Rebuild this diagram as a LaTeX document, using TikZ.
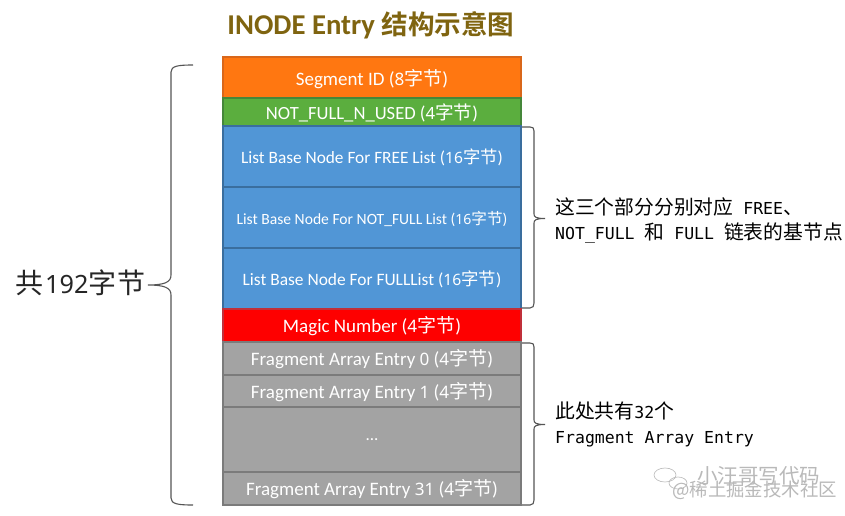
\documentclass[tikz,border=0pt]{standalone}
\usepackage{fontspec}
\setmainfont{Carlito}
\setmonofont{DejaVu Sans Mono}
\newfontfamily\cjk{Noto Sans CJK SC}
\newfontfamily\cjkb{Noto Sans CJK SC}[BoldFont={Noto Sans CJK SC Bold}]
\newfontfamily\digitfont{Noto Sans}[Scale=0.9]
\newcommand{\dg}[1]{{\digitfont #1}}
\newcommand{\zh}[1]{{\cjk #1}}
\newcommand{\zn}[1]{{\cjk\fontsize{19.8}{25}\selectfont #1}}
\newcommand{\low}[1]{\raisebox{-7.2pt}[0pt][0pt]{#1}}
\definecolor{orangefill}{HTML}{FF7711}
\definecolor{orangeline}{HTML}{D9671A}
\definecolor{greenfill}{HTML}{5BAE3E}
\definecolor{greenline}{HTML}{45873A}
\definecolor{bluefill}{HTML}{5196D6}
\definecolor{blueline}{HTML}{3A6E9E}
\definecolor{redfill}{HTML}{FE0000}
\definecolor{redline}{HTML}{C0303A}
\definecolor{grayfill}{HTML}{A3A3A3}
\definecolor{grayline}{HTML}{7B7B7B}
\definecolor{titlecol}{HTML}{7F6410}
\definecolor{bracecol}{HTML}{555555}
\tikzset{
  x=1pt,y=-1pt,
  cell/.style={draw,line width=1.4pt,minimum width=298pt,text=white,inner sep=0pt,anchor=center,font=\fontsize{19}{22}\selectfont},
  orangecell/.style={cell,fill=orangefill,draw=orangeline},
  greencell/.style={cell,fill=greenfill,draw=greenline},
  bluecell/.style={cell,fill=bluefill,draw=blueline},
  redcell/.style={cell,fill=redfill,draw=redline},
  graycell/.style={cell,fill=grayfill,draw=grayline},
  bracket/.style={draw=bracecol,line width=1.1pt},
  note/.style={font=\ttfamily\fontsize{16.5}{25}\selectfont,anchor=west,align=left,inner sep=0pt,text=black},
  wmark/.style={text=gray!55,inner sep=0pt,font=\cjk\fontsize{20.5}{22}\selectfont}
}
\begin{document}
\begin{tikzpicture}
\useasboundingbox[fill=white] (0,0) rectangle (845,516);
\node[font=\bfseries\fontsize{28.7}{32}\selectfont,text=titlecol] (title) at (371,25) {INODE Entry {\cjkb\bfseries\fontsize{26.6}{32}\selectfont 结构示意图}};
\node[orangecell,minimum height=41pt] (seg) at (372,77.5) {\raisebox{-8pt}[0pt][0pt]{Segment ID (\dg{8}\zh{字节})}};
\node[greencell,minimum height=28pt,font=\fontsize{18.6}{22}\selectfont] (used) at (372,112) {\low{NOT\_FULL\_N\_USED (\dg{4}\zh{字节})}};
\node[bluecell,minimum height=61pt,font=\fontsize{17.3}{20}\selectfont] (free) at (372,156.5) {\low{List Base Node For FREE List (\dg{16}\zh{字节})}};
\node[bluecell,minimum height=61pt,font=\fontsize{15.6}{20}\selectfont] (notfull) at (372,217.5) {\low{List Base Node For NOT\_FULL List (\dg{16}\zh{字节})}};
\node[bluecell,minimum height=61pt,font=\fontsize{17.4}{20}\selectfont] (full) at (372,278.5) {\low{List Base Node For FULLList (\dg{16}\zh{字节})}};
\node[redcell,minimum height=33pt] (magic) at (372,325.5) {\low{Magic Number (\dg{4}\zh{字节})}};
\node[graycell,minimum height=33pt] (f0) at (372,358.5) {\low{Fragment Array Entry \dg{0} (\dg{4}\zh{字节})}};
\node[graycell,minimum height=32pt] (f1) at (372,391) {\low{Fragment Array Entry \dg{1} (\dg{4}\zh{字节})}};
\node[graycell,minimum height=65pt,font=\fontsize{17}{20}\selectfont] (dots) at (372,439.5) {\raisebox{-1pt}[0pt][0pt]{...}};
\node[graycell,minimum height=33pt] (f31) at (372,488.5) {\low{Fragment Array Entry \dg{31} (\dg{4}\zh{字节})}};
% left brace
\draw[bracket] (193,65) .. controls (178,65) and (171,66) .. (171,72) -- (171,275) .. controls (171,282) and (165,285) .. (148,285) .. controls (165,285) and (171,288) .. (171,295) -- (171,498) .. controls (171,504) and (178,505) .. (193,505);
\node[anchor=west,inner sep=0pt,font=\fontsize{28}{30}\selectfont,text=black!85] (total) at (15,283) {\zh{共}\hspace{2pt}\dg{192}\zh{字\hspace{1pt}节}};
% right brace 1
\draw[bracket] (522,127) -- (530,127) .. controls (533,127) and (534,128) .. (534,131) -- (534,214) .. controls (534,217) and (536,218.5) .. (545,218.5) .. controls (536,218.5) and (534,220) .. (534,223) -- (534,303) .. controls (534,306) and (533,308) .. (530,308) -- (522,308);
\node[note] (n1) at (555,220.5) {\zn{这三个部分分别对应} FREE\zn{、}\\NOT\_FULL \zn{和} FULL \zn{链表的基节点}};
% right brace 2
\draw[bracket] (522,343) -- (530,343) .. controls (533,343) and (534,344) .. (534,347) -- (534,420) .. controls (534,423) and (536,424.5) .. (545,424.5) .. controls (536,424.5) and (534,426) .. (534,429) -- (534,500) .. controls (534,503) and (533,505) .. (530,505) -- (522,505);
\node[note] (n2) at (555,424.5) {\zn{此处共有}32\zn{个}\\Fragment Array Entry};
% watermark
\draw[gray!55,line width=.6pt] (665,475) ellipse [x radius=11,y radius=7];
\draw[gray!55,line width=.6pt] (678,483) ellipse [x radius=9,y radius=6];
\node[wmark,anchor=west] (wm1) at (697,476) {小汪哥写代码};
\node[wmark,anchor=west,font=\cjk\fontsize{18.4}{20}\selectfont] (wm2) at (672,490) {@稀土掘金技术社区};
\end{tikzpicture}
\end{document}
